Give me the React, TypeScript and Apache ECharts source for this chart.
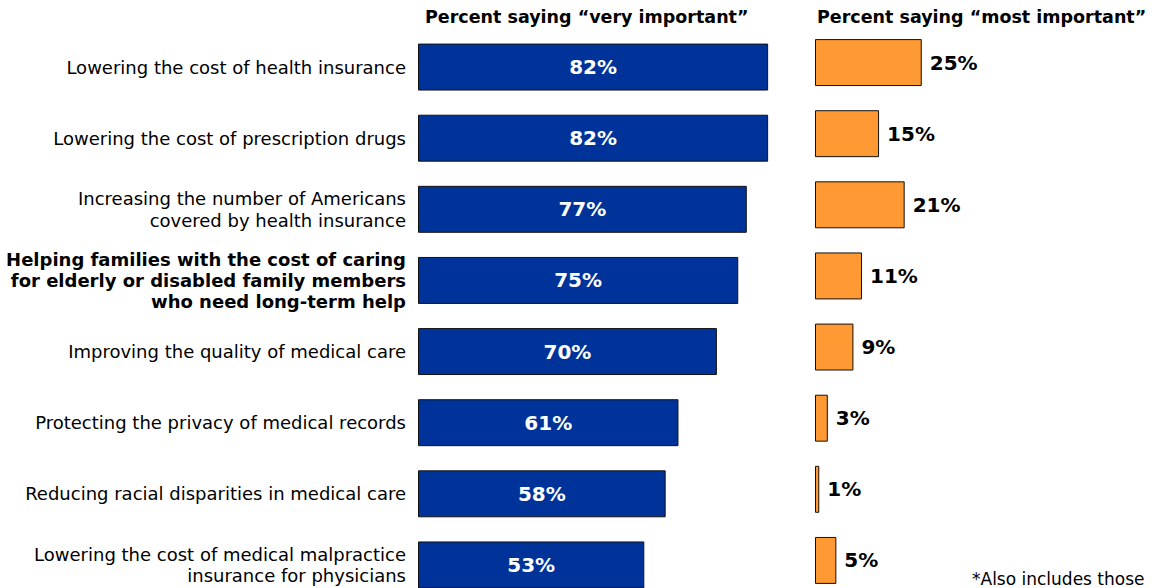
import React, { useEffect, useRef } from "react";
import * as echarts from "echarts";

const categories = [
  "Lowering the cost of health insurance",
  "Lowering the cost of prescription drugs",
  "Increasing the number of Americans\ncovered by health insurance",
  "Helping families with the cost of caring\nfor elderly or disabled family members\nwho need long-term help",
  "Improving the quality of medical care",
  "Protecting the privacy of medical records",
  "Reducing racial disparities in medical care",
  "Lowering the cost of medical malpractice\ninsurance for physicians",
];
const boldCategory = 3;
const veryImportant = [82, 82, 77, 75, 70, 61, 58, 53];
const mostImportant = [25, 15, 21, 11, 9, 3, 1, 5];
const leftTitle = "Percent saying \u201cvery important\u201d";
const rightTitle = "Percent saying \u201cmost important\u201d";
const footnote = "*Also includes those";

const FONT = "DejaVu Sans, Verdana, sans-serif";

export default function App() {
  const ref = useRef<HTMLDivElement>(null);
  useEffect(() => {
    const chart = echarts.init(ref.current!, null, { renderer: "svg" });
    chart.setOption({
      animation: false,
      textStyle: { fontFamily: FONT },
      grid: [
        { left: 418, top: 31.5, width: 427, height: 569 },
        { left: 815, top: 27, width: 213.5, height: 569 },
      ],
      xAxis: [
        { gridIndex: 0, type: "value", min: 0, max: 100, show: false },
        { gridIndex: 1, type: "value", min: 0, max: 50, show: false },
      ],
      yAxis: [
        {
          gridIndex: 0,
          type: "category",
          data: categories,
          inverse: true,
          axisLine: { show: false },
          axisTick: { show: false },
          axisLabel: {
            margin: 12,
            fontFamily: FONT,
            fontSize: 18,
            color: "#000",
            lineHeight: 21.5,
            align: "right",
            formatter: (v: string, i: number) =>
              i === boldCategory ? "{b|" + v.split("\n").join("}\n{b|") + "}" : v,
            rich: {
              b: { fontWeight: "bold", fontSize: 18, fontFamily: FONT, color: "#000", lineHeight: 21, align: "right" },
            },
          },
        },
        {
          gridIndex: 1,
          type: "category",
          data: categories,
          inverse: true,
          show: false,
        },
      ],
      series: [
        {
          type: "bar",
          xAxisIndex: 0,
          yAxisIndex: 0,
          data: veryImportant,
          barCategoryGap: "34%",
          itemStyle: { color: "#003399", borderColor: "#111", borderWidth: 1 },
          label: {
            show: true,
            position: "inside",
            formatter: "{c}%",
            color: "#fff",
            fontWeight: "bold",
            fontSize: 20,
            fontFamily: FONT,
          },
        },
        {
          type: "bar",
          xAxisIndex: 1,
          yAxisIndex: 1,
          data: mostImportant,
          barCategoryGap: "34%",
          itemStyle: { color: "#FF9933", borderColor: "#111", borderWidth: 1 },
          label: {
            show: true,
            position: "right",
            distance: 8,
            formatter: "{c}%",
            color: "#000",
            fontWeight: "bold",
            fontSize: 20,
            fontFamily: FONT,
          },
        },
      ],
      graphic: [
        {
          type: "text",
          left: 425,
          top: 8,
          style: { text: leftTitle, fontFamily: FONT, fontSize: 17.5, fontWeight: "bold", fill: "#000" },
        },
        {
          type: "text",
          left: 817,
          top: 8,
          style: { text: rightTitle, fontFamily: FONT, fontSize: 17.5, fontWeight: "bold", fill: "#000" },
        },
        {
          type: "text",
          left: 972,
          top: 570,
          style: { text: footnote, fontFamily: FONT, fontSize: 17, fill: "#000" },
        },
      ],
    });
    return () => chart.dispose();
  }, []);
  return (
    <div style={{ position: "absolute", left: 0, top: 0, width: 1153, height: 588, overflow: "hidden" }}>
      <div ref={ref} style={{ width: 1153, height: 620 }} />
    </div>
  );
}
